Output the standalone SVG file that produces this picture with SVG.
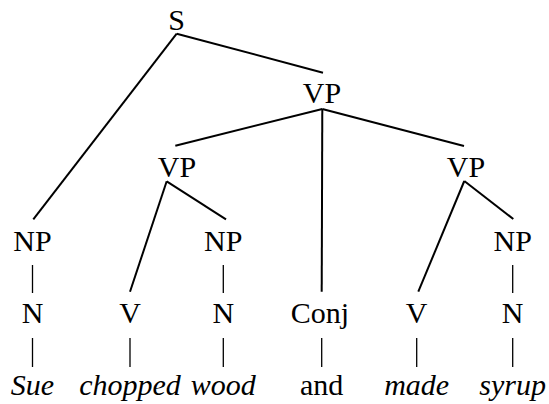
<svg xmlns="http://www.w3.org/2000/svg" width="549" height="404" viewBox="0 0 549 404">
<style>
text{font-family:"Liberation Serif","Times New Roman",serif;font-size:30px;fill:#000;text-anchor:middle}
.w{font-style:italic}
.e{stroke:#000;stroke-width:2;fill:none}
.b{stroke:#000;stroke-width:1.3;fill:none}
</style>
<rect width="549" height="404" fill="#fff"/>
<g id="connectors">
<line class="e" x1="176.7" y1="33.7" x2="33.3" y2="219.3"/>
<line class="e" x1="176.7" y1="33.7" x2="323" y2="72.7"/>
<line class="e" x1="322.3" y1="109" x2="175.3" y2="145.7"/>
<line class="e" x1="322.3" y1="109" x2="464" y2="146"/>
<line class="e" x1="322.3" y1="109" x2="321.7" y2="291.7"/>
<line class="e" x1="166.7" y1="181.3" x2="130" y2="291.7"/>
<line class="e" x1="166.7" y1="181.3" x2="226" y2="219.3"/>
<line class="e" x1="464.3" y1="181" x2="418.3" y2="291.7"/>
<line class="e" x1="464.3" y1="181" x2="513.3" y2="219"/>
<line class="b" x1="32.5" y1="265" x2="32.5" y2="293"/>
<line class="b" x1="223.3" y1="265" x2="223.3" y2="293"/>
<line class="b" x1="512.7" y1="265" x2="512.7" y2="293"/>
<line class="b" x1="32.5" y1="338" x2="32.5" y2="367"/>
<line class="b" x1="130" y1="338" x2="130" y2="367"/>
<line class="b" x1="223.3" y1="338" x2="223.3" y2="367"/>
<line class="b" x1="321.7" y1="338" x2="321.7" y2="367"/>
<line class="b" x1="416.7" y1="338" x2="416.7" y2="367"/>
<line class="b" x1="512.7" y1="338" x2="512.7" y2="367"/>
</g>
<g id="S"><text x="176.7" y="30">S</text></g>
<g id="VP1"><text x="322" y="103">VP</text></g>
<g id="VP2"><text x="177" y="176.5">VP</text></g>
<g id="VP3"><text x="466" y="176.5">VP</text></g>
<g id="NP1"><text x="32.5" y="251">NP</text></g>
<g id="NP2"><text x="223.3" y="251">NP</text></g>
<g id="NP3"><text x="512.7" y="251">NP</text></g>
<g id="N1"><text x="32.5" y="323">N</text></g>
<g id="V1"><text x="130" y="323">V</text></g>
<g id="N2"><text x="223.3" y="323">N</text></g>
<g id="Conj"><text x="320" y="323">Conj</text></g>
<g id="V2"><text x="416.7" y="323">V</text></g>
<g id="N3"><text x="512.7" y="323">N</text></g>
<g id="Sue"><text class="w" x="32.5" y="395">Sue</text></g>
<g id="chopped"><text class="w" x="130" y="395">chopped</text></g>
<g id="wood"><text class="w" x="223.3" y="395">wood</text></g>
<g id="and"><text x="321.7" y="395">and</text></g>
<g id="made"><text class="w" x="416.7" y="395">made</text></g>
<g id="syrup"><text class="w" x="512.7" y="395">syrup</text></g>
</svg>
